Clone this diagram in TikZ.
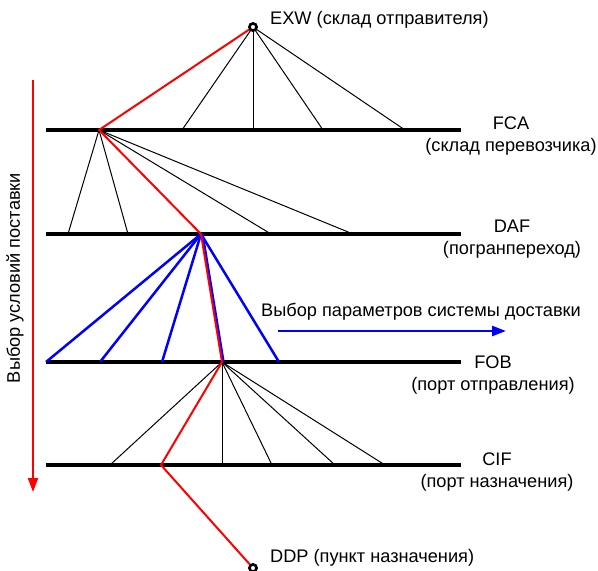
\documentclass[tikz,border=0pt]{standalone}
\usepackage{fontspec}
\setmainfont{Liberation Sans}
\usetikzlibrary{arrows.meta}

\begin{document}
\begin{tikzpicture}[x=1pt, y=-1pt,
  level/.style={line width=4pt},
  fan/.style={line width=1pt},
  route/.style={red, line width=2pt},
  choice/.style={blue, line width=2.5pt},
  term/.style={circle, draw, line width=2.5pt, fill=white, inner sep=0pt, minimum size=7pt},
  tag/.style={font=\fontsize{18.2}{22}\selectfont, align=center, inner sep=0pt},
  bigtip/.style={-{Triangle[length=14pt, width=10pt]}}]

  \useasboundingbox (0,0) rectangle (598,571);

  \newcommand\XL{46}
  \newcommand\XR{461}
  \newcommand\YFCA{130}
  \newcommand\YDAF{234}
  \newcommand\YFOB{362}
  \newcommand\YCIF{465}

  % levels
  \draw[level] (\XL, \YFCA) -- (\XR, \YFCA);
  \draw[level] (\XL, \YDAF) -- (\XR, \YDAF);
  \draw[level] (\XL, \YFOB) -- (\XR, \YFOB);
  \draw[level] (\XL, \YCIF) -- (\XR, \YCIF);

  \coordinate (fca) at (99, \YFCA);
  \coordinate (daf) at (201, \YDAF);
  \coordinate (fob) at (222, \YFOB);
  \coordinate (cif) at (161, \YCIF);

  % fans
  \foreach \x in {182, 253, 323, 405}
    \draw[fan] (253, 27) -- (\x, \YFCA);
  \foreach \x in {68, 128, 271, 353}
    \draw[fan] (fca) -- (\x, \YDAF);
  \foreach \x in {110, 222, 272, 335, 385}
    \draw[fan] (fob) -- (\x, \YCIF);
  \foreach \x in {46, 100, 162, 279}
    \draw[choice] (daf) -- (\x, \YFOB);
  \draw[choice] ([xshift=1.5pt]daf) -- ([xshift=1.5pt]fob);

  % chosen route
  \node[term] (exw) at (253, 27) {};
  \node[term] (ddp) at (253, 568) {};
  \draw[route] (exw) -- (fca) -- (daf) -- (fob) -- (cif) -- (ddp);
  \node[term] at (253, 27) {};
  \node[term] at (253, 568) {};

  % labels
  \node[tag, anchor=west] (exwtxt) at (270, 20) {EXW (склад отправителя)};
  \node[tag] (fcatxt) at (511, 136) {FCA\\(склад перевозчика)};
  \node[tag] (daftxt) at (512, 239) {DAF\\(погранпереход)};
  \node[tag] (fobtxt) at (493, 375) {FOB\\(порт отправления)};
  \node[tag] (ciftxt) at (497, 472) {CIF\\(порт назначения)};
  \node[tag, anchor=west] (ddptxt) at (270, 558) {DDP (пункт назначения)};

  \node[tag, anchor=west] (param) at (261, 312) {Выбор параметров системы доставки};
  \coordinate (pa) at (278, 331);
  \coordinate (pb) at (506, 331);
  \draw[choice, bigtip] (pa) -- (pb);

  \node[tag, rotate=90] (cond) at (15, 278) {Выбор условий поставки};
  \coordinate (ca) at (33, 80);
  \coordinate (cb) at (33, 492);
  \draw[route, bigtip] (ca) -- (cb);

\end{tikzpicture}
\end{document}
